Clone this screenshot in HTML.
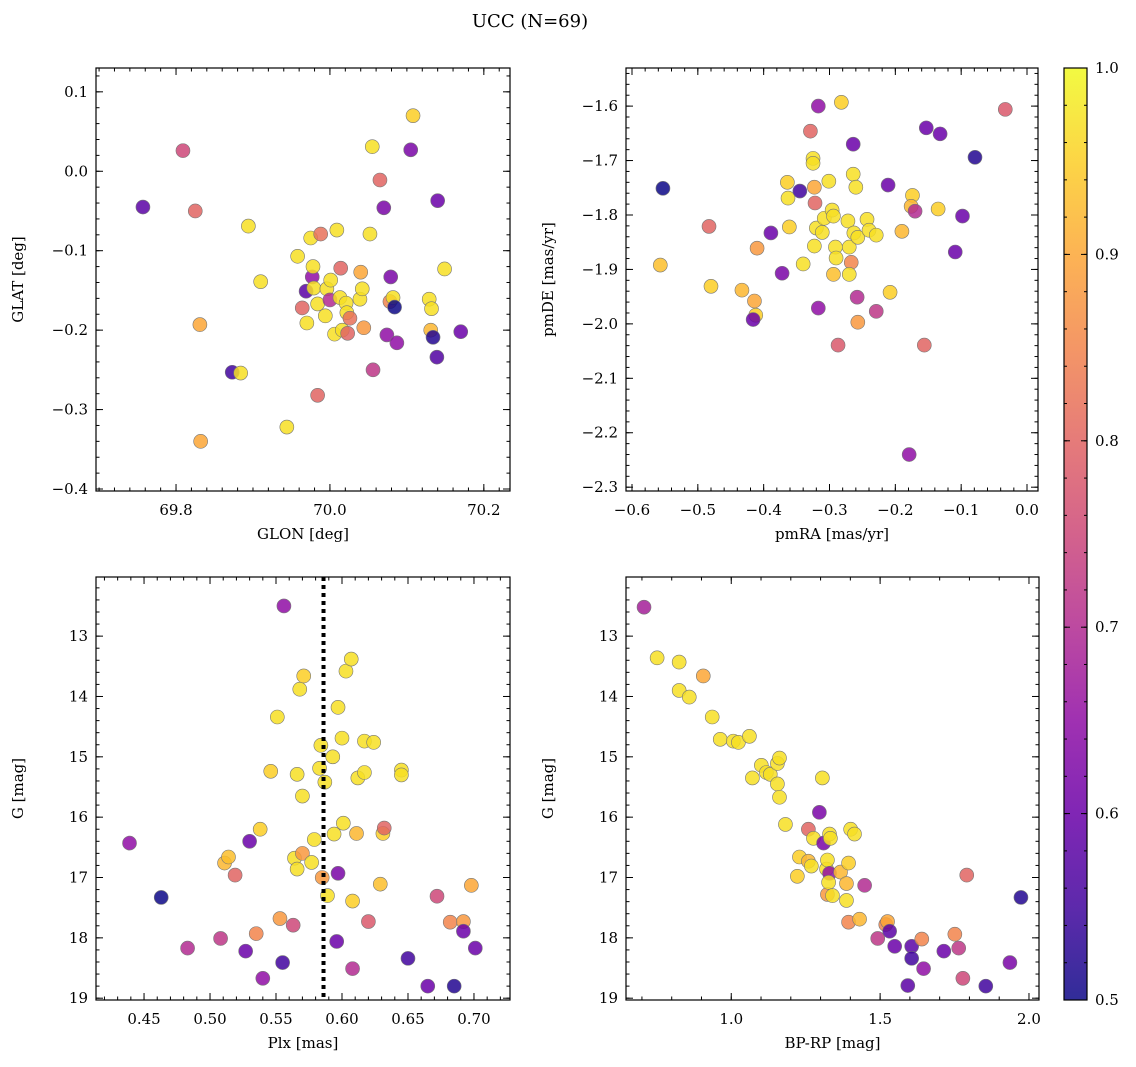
<!DOCTYPE html>
<html><head><meta charset="utf-8">
<style>
html,body{margin:0;padding:0;background:#fff;}
svg{display:block;font-family:"DejaVu Serif","Liberation Serif",serif;}
</style></head>
<body>
<svg id="fig" width="1136" height="1067" viewBox="0 0 1136 1067" xmlns="http://www.w3.org/2000/svg">
<text x="530" y="27" font-size="18" text-anchor="middle">UCC (N=69)</text>
</svg>
<script>
// ---- Panel 1: GLON vs GLAT ----
const p1Glon=[69.809,69.757,69.825,69.831,69.894,69.910,69.873,69.884,69.832,69.944,69.958,69.984,69.975,69.988,70.009,69.977,69.978,69.964,69.969,69.979,69.970,69.984,69.996,69.994,70.001,70.000,70.006,70.014,70.013,70.021,70.022,70.016,70.023,70.026,70.039,70.040,70.042,70.044,70.052,70.055,70.065,70.070,70.056,70.074,70.079,70.078,70.082,70.084,70.087,70.108,70.105,70.129,70.132,70.131,70.134,70.139,70.140,70.149,70.170];
const p1Glat=[0.026,-0.045,-0.050,-0.193,-0.069,-0.139,-0.253,-0.254,-0.340,-0.322,-0.107,-0.282,-0.084,-0.079,-0.074,-0.133,-0.120,-0.172,-0.151,-0.147,-0.191,-0.167,-0.148,-0.182,-0.137,-0.162,-0.205,-0.122,-0.159,-0.166,-0.178,-0.200,-0.204,-0.185,-0.161,-0.127,-0.148,-0.197,-0.079,0.031,-0.011,-0.046,-0.250,-0.206,-0.133,-0.164,-0.159,-0.171,-0.216,0.070,0.027,-0.161,-0.173,-0.200,-0.209,-0.234,-0.037,-0.123,-0.202];
const p1Prob=[0.75,0.58,0.8,0.9,0.97,0.97,0.55,0.97,0.9,0.97,0.97,0.8,0.97,0.82,0.97,0.65,0.97,0.8,0.58,0.97,0.97,0.97,0.97,0.97,0.97,0.7,0.97,0.8,0.97,0.97,0.97,0.97,0.8,0.82,0.97,0.9,0.97,0.88,0.97,0.97,0.8,0.62,0.72,0.65,0.62,0.85,0.97,0.5,0.65,0.95,0.62,0.97,0.97,0.92,0.52,0.57,0.6,0.97,0.6];
// ---- Panel 2: pmRA vs pmDE ----
const p2PmRA=[-0.553,-0.557,-0.483,-0.480,-0.433,-0.414,-0.412,-0.410,-0.416,-0.389,-0.372,-0.364,-0.363,-0.361,-0.345,-0.340,-0.329,-0.323,-0.325,-0.325,-0.322,-0.317,-0.317,-0.323,-0.320,-0.311,-0.308,-0.301,-0.296,-0.294,-0.294,-0.291,-0.290,-0.287,-0.282,-0.272,-0.270,-0.267,-0.270,-0.264,-0.264,-0.263,-0.260,-0.258,-0.257,-0.257,-0.243,-0.240,-0.229,-0.229,-0.211,-0.208,-0.190,-0.179,-0.174,-0.176,-0.170,-0.156,-0.153,-0.135,-0.132,-0.109,-0.098,-0.079,-0.033];
const p2PmDE=[-1.751,-1.892,-1.821,-1.931,-1.938,-1.958,-1.984,-1.861,-1.992,-1.833,-1.907,-1.740,-1.769,-1.822,-1.756,-1.890,-1.646,-1.749,-1.696,-1.705,-1.778,-1.600,-1.971,-1.857,-1.824,-1.832,-1.806,-1.738,-1.791,-1.802,-1.909,-1.859,-1.879,-2.039,-1.593,-1.811,-1.859,-1.887,-1.909,-1.725,-1.670,-1.833,-1.749,-1.951,-1.841,-1.997,-1.808,-1.828,-1.837,-1.977,-1.745,-1.942,-1.830,-2.240,-1.764,-1.784,-1.793,-2.039,-1.640,-1.789,-1.651,-1.868,-1.802,-1.694,-1.606];
const p2Prob=[0.5,0.93,0.8,0.95,0.92,0.9,0.95,0.88,0.6,0.6,0.62,0.95,0.97,0.95,0.55,0.97,0.8,0.9,0.97,0.97,0.8,0.65,0.65,0.97,0.97,0.97,0.97,0.97,0.97,0.97,0.93,0.97,0.97,0.78,0.95,0.97,0.97,0.85,0.97,0.97,0.6,0.97,0.97,0.7,0.97,0.88,0.97,0.97,0.97,0.72,0.6,0.95,0.92,0.65,0.95,0.92,0.7,0.8,0.6,0.95,0.6,0.6,0.6,0.52,0.78];
// ---- Panel 3: Plx vs G ----
const p3Plx=[0.439,0.463,0.483,0.508,0.511,0.514,0.519,0.527,0.530,0.535,0.538,0.540,0.546,0.551,0.553,0.556,0.555,0.563,0.564,0.566,0.566,0.568,0.570,0.571,0.570,0.577,0.579,0.583,0.584,0.585,0.587,0.589,0.593,0.594,0.596,0.597,0.597,0.600,0.601,0.603,0.607,0.608,0.608,0.611,0.612,0.617,0.617,0.620,0.624,0.629,0.631,0.632,0.645,0.645,0.650,0.665,0.672,0.682,0.685,0.692,0.692,0.698,0.701];
const p3G=[16.43,17.33,18.17,18.01,16.76,16.66,16.96,18.22,16.40,17.93,16.20,18.67,15.24,14.34,17.68,12.50,18.41,17.79,16.68,15.29,16.86,13.88,16.60,13.66,15.65,16.75,16.37,15.19,14.81,17.00,15.42,17.30,15.00,16.28,18.06,16.93,14.18,14.69,16.10,13.58,13.38,17.39,18.51,16.27,15.35,15.26,14.74,17.73,14.76,17.11,16.27,16.18,15.22,15.30,18.34,18.80,17.31,17.74,18.80,17.73,17.89,17.13,18.17];
const p3Prob=[0.65,0.5,0.7,0.72,0.92,0.93,0.8,0.6,0.6,0.85,0.95,0.65,0.95,0.97,0.88,0.65,0.55,0.75,0.97,0.97,0.97,0.97,0.88,0.95,0.97,0.97,0.97,0.97,0.97,0.88,0.97,0.97,0.97,0.97,0.6,0.62,0.97,0.97,0.97,0.97,0.97,0.95,0.7,0.92,0.97,0.97,0.97,0.78,0.97,0.93,0.95,0.8,0.97,0.97,0.55,0.6,0.75,0.85,0.52,0.88,0.6,0.9,0.6];
const p3PlxLine=0.586;
// ---- Panel 4: BP-RP vs G ----
const p4Col=[0.707,0.751,0.825,0.825,0.859,0.906,0.936,0.963,1.007,1.024,1.061,1.071,1.101,1.118,1.131,1.155,1.162,1.155,1.162,1.182,1.222,1.229,1.259,1.259,1.276,1.269,1.306,1.296,1.310,1.320,1.323,1.330,1.333,1.323,1.330,1.327,1.340,1.367,1.387,1.387,1.401,1.414,1.394,1.394,1.431,1.448,1.492,1.519,1.525,1.532,1.549,1.593,1.606,1.606,1.640,1.646,1.714,1.751,1.764,1.778,1.791,1.855,1.936,1.973];
const p4G=[12.52,13.36,13.43,13.90,14.01,13.66,14.34,14.71,14.74,14.76,14.66,15.35,15.14,15.26,15.29,15.11,15.02,15.45,15.67,16.12,16.98,16.66,16.20,16.73,16.35,16.81,15.35,15.92,16.43,16.86,16.71,16.28,16.35,17.28,16.93,17.08,17.30,16.91,17.10,17.38,16.20,16.28,16.76,17.74,17.69,17.13,18.01,17.78,17.73,17.89,18.14,18.79,18.14,18.34,18.02,18.51,18.22,17.94,18.17,18.67,16.96,18.80,18.41,17.33];
const p4Prob=[0.68,0.97,0.97,0.97,0.97,0.9,0.97,0.97,0.97,0.97,0.97,0.97,0.97,0.97,0.97,0.97,0.97,0.97,0.97,0.97,0.95,0.95,0.8,0.92,0.97,0.97,0.97,0.62,0.62,0.97,0.97,0.97,0.97,0.88,0.65,0.97,0.97,0.92,0.92,0.97,0.97,0.97,0.95,0.85,0.92,0.7,0.72,0.85,0.9,0.58,0.6,0.58,0.58,0.55,0.85,0.65,0.6,0.85,0.72,0.75,0.8,0.55,0.62,0.52];
// ---- Colorbar ----
const cbTicks=[0.5,0.6,0.7,0.8,0.9,1.0];

const NS="http://www.w3.org/2000/svg";
const svg=document.getElementById('fig');
function mk(tag,attrs,parent){const e=document.createElementNS(NS,tag);for(const k in attrs)e.setAttribute(k,attrs[k]);(parent||svg).appendChild(e);return e;}
const stops=['#0d0887','#41049d','#6a00a8','#8f0da4','#b12a90','#cc4778','#e16462','#f2844b','#fca636','#fcce25','#f0f921'];
function hex(h){return [1,3,5].map(i=>parseInt(h.substr(i,2),16));}
function plasma(t){t=Math.max(0,Math.min(1,t));const f=t*10,i=Math.min(9,Math.floor(f)),u=f-i;const a=hex(stops[i]),b=hex(stops[i+1]);return 'rgb('+a.map((v,k)=>Math.round(v+(b[k]-v)*u)).join(',')+')';}
function cmap(p){return plasma((p-0.5)/0.5);}

function panel(o){
  const g=mk('g',{});
  
  
  const sx=v=>o.x0+(v-o.xmin)/(o.xmax-o.xmin)*(o.x1-o.x0);
  const sy=v=>o.yinv? o.y0+(v-o.ymin)/(o.ymax-o.ymin)*(o.y1-o.y0) : o.y1-(v-o.ymin)/(o.ymax-o.ymin)*(o.y1-o.y0);
  for(let i=0;i<o.xs.length;i++){
    const c=mk('circle',{cx:sx(o.xs[i]),cy:sy(o.ys[i]),r:7,fill:cmap(o.ps[i]),'fill-opacity':0.85,stroke:'#777','stroke-width':0.6},g);
    
    
  }
  if(o.vline!==undefined){
    const l=mk('line',{x1:sx(o.vline),x2:sx(o.vline),y1:o.y0,y2:o.y1,stroke:'#000','stroke-width':4,'stroke-dasharray':'4,4'},g);
    
    
  }
  const fr=mk('rect',{x:o.x0,y:o.y0,width:o.x1-o.x0,height:o.y1-o.y0,fill:'none',stroke:'#000','stroke-width':1.2},g);
  
  
  o.xt.forEach(v=>{const x=sx(v);
    mk('line',{x1:x,x2:x,y1:o.y1,y2:o.y1-7,stroke:'#000'},g);mk('line',{x1:x,x2:x,y1:o.y0,y2:o.y0+7,stroke:'#000'},g);
    const t=mk('text',{x:x,y:o.y1+24,'font-size':15,'text-anchor':'middle'},g);t.textContent=o.xf(v);
    
    });
  for(let v=o.xmin;v<=o.xmax;v+=o.xm){const r=Math.round(v/o.xm)*o.xm;const x=sx(r);if(x<o.x0||x>o.x1)continue;
    mk('line',{x1:x,x2:x,y1:o.y1,y2:o.y1-3.5,stroke:'#000'},g);mk('line',{x1:x,x2:x,y1:o.y0,y2:o.y0+3.5,stroke:'#000'},g);}
  o.yt.forEach(v=>{const y=sy(v);
    mk('line',{x1:o.x0,x2:o.x0+7,y1:y,y2:y,stroke:'#000'},g);mk('line',{x1:o.x1,x2:o.x1-7,y1:y,y2:y,stroke:'#000'},g);
    const t=mk('text',{x:o.x0-8,y:y+5,'font-size':15,'text-anchor':'end'},g);t.textContent=o.yf(v);
    
    });
  const ylo=Math.min(o.ymin,o.ymax),yhi=Math.max(o.ymin,o.ymax);
  for(let v=Math.ceil(ylo/o.ym)*o.ym;v<=yhi;v+=o.ym){const y=sy(v);if(y<o.y0||y>o.y1)continue;
    mk('line',{x1:o.x0,x2:o.x0+3.5,y1:y,y2:y,stroke:'#000'},g);mk('line',{x1:o.x1,x2:o.x1-3.5,y1:y,y2:y,stroke:'#000'},g);}
  const xl=mk('text',{x:(o.x0+o.x1)/2,y:o.y1+48,'font-size':15,'text-anchor':'middle'},g);xl.textContent=o.xlab;
  
  
  const yx=o.x0-73,yy=(o.y0+o.y1)/2;
  const yl=mk('text',{x:yx,y:yy,'font-size':15,'text-anchor':'middle',transform:`rotate(-90 ${yx} ${yy})`},g);yl.textContent=o.ylab;
  
  
}
const f1=v=>v.toFixed(1).replace('-','\u2212'), f2=v=>v.toFixed(2), f0=v=>v.toFixed(0);
panel({name:'glon-glat-panel',x0:96,x1:510,y0:68,y1:491,xmin:69.696,xmax:70.234,ymin:-0.4025,ymax:0.130,xs:p1Glon,ys:p1Glat,ps:p1Prob,
  xt:[69.8,70.0,70.2],xm:0.02,yt:[0.1,0.0,-0.1,-0.2,-0.3,-0.4],ym:0.02,xf:f1,yf:f1,xlab:'GLON [deg]',ylab:'GLAT [deg]'});
panel({name:'proper-motion-panel',x0:626,x1:1038,y0:68,y1:491,xmin:-0.6091,xmax:0.0167,ymin:-2.307,ymax:-1.530,xs:p2PmRA,ys:p2PmDE,ps:p2Prob,
  xt:[-0.6,-0.5,-0.4,-0.3,-0.2,-0.1,0.0],xm:0.02,yt:[-1.6,-1.7,-1.8,-1.9,-2.0,-2.1,-2.2,-2.3],ym:0.02,xf:f1,yf:f1,xlab:'pmRA [mas/yr]',ylab:'pmDE [mas/yr]'});
panel({name:'parallax-magnitude-panel',x0:96,x1:510,y0:577,y1:1000,xmin:0.4136,xmax:0.7273,ymin:12.02,ymax:19.03,yinv:true,xs:p3Plx,ys:p3G,ps:p3Prob,vline:p3PlxLine,
  xt:[0.45,0.50,0.55,0.60,0.65,0.70],xm:0.01,yt:[13,14,15,16,17,18,19],ym:0.2,xf:f2,yf:f0,xlab:'Plx [mas]',ylab:'G [mag]'});
panel({name:'color-magnitude-panel',x0:626,x1:1039,y0:577,y1:1000,xmin:1.0-105/297,xmax:2.0+10/297,ymin:12.02,ymax:19.03,yinv:true,xs:p4Col,ys:p4G,ps:p4Prob,
  xt:[1.0,1.5,2.0],xm:0.1,yt:[13,14,15,16,17,18,19],ym:0.2,xf:f1,yf:f0,xlab:'BP-RP [mag]',ylab:'G [mag]'});

const cb=mk('g',{});


const defs=mk('defs',{},cb);
const lg=mk('linearGradient',{id:'cbg',x1:0,y1:1,x2:0,y2:0},defs);
stops.forEach((s,i)=>mk('stop',{offset:i/10,'stop-color':s},lg));
const cbx0=1064,cbx1=1087,cby0=68,cby1=1000;
mk('rect',{x:cbx0,y:cby0,width:cbx1-cbx0,height:cby1-cby0,fill:'url(#cbg)','fill-opacity':0.85},cb);
mk('rect',{x:cbx0,y:cby0,width:cbx1-cbx0,height:cby1-cby0,fill:'none',stroke:'#000','stroke-width':1.2},cb);
const cy=v=>cby1-(v-0.5)/0.5*(cby1-cby0);
cbTicks.forEach(v=>{const y=cy(v);
  mk('line',{x1:cbx1,x2:cbx1-6,y1:y,y2:y,stroke:'#000'},cb);mk('line',{x1:cbx0,x2:cbx0+6,y1:y,y2:y,stroke:'#000'},cb);
  const t=mk('text',{x:cbx1+8,y:y+5,'font-size':15},cb);t.textContent=v.toFixed(1);
  
  });
for(let k=0;k<=25;k++){const y=cy(0.5+k*0.02);mk('line',{x1:cbx1,x2:cbx1-3,y1:y,y2:y,stroke:'#000'},cb);mk('line',{x1:cbx0,x2:cbx0+3,y1:y,y2:y,stroke:'#000'},cb);}
</script>
</body></html>
